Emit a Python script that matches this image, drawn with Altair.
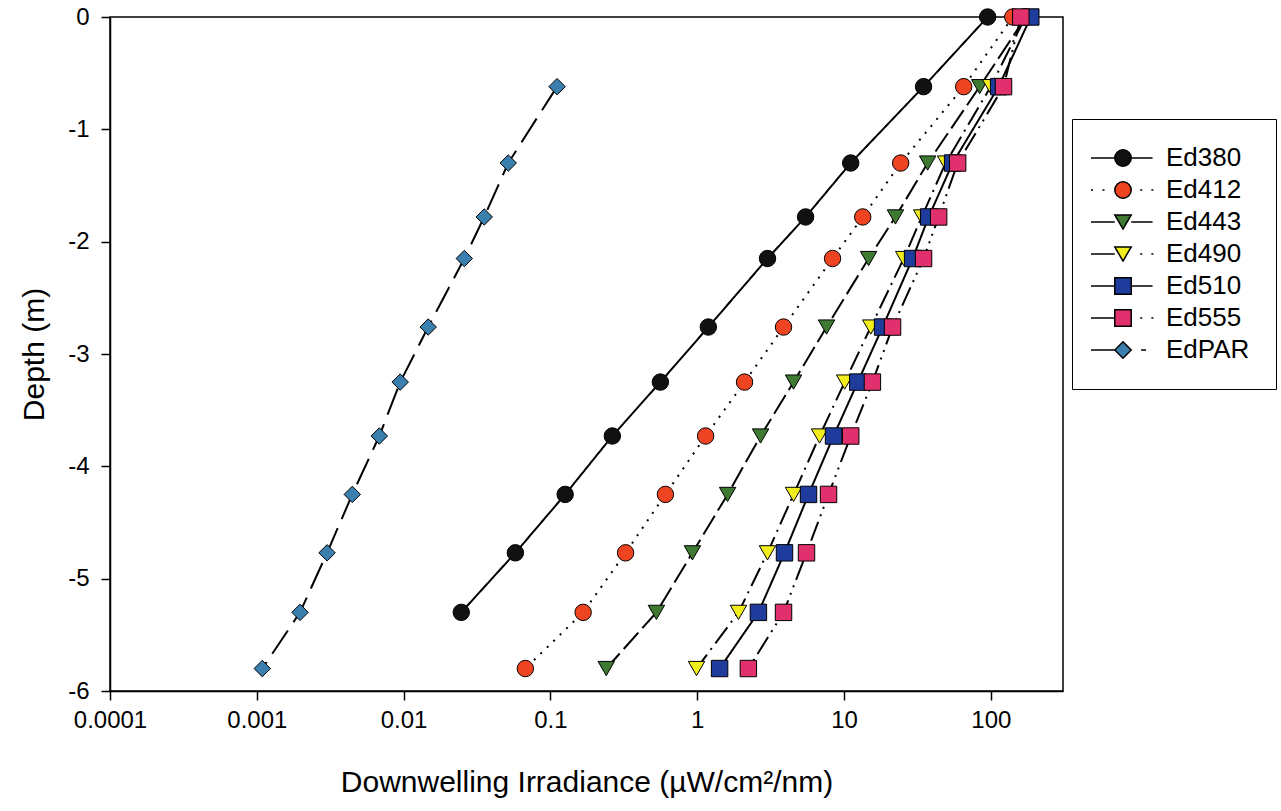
import altair as alt
import pandas as pd

# ---- data ----
series = ["Ed380", "Ed412", "Ed443", "Ed490", "Ed510", "Ed555", "EdPAR"]
depth = [0, -0.62, -1.30, -1.78, -2.15, -2.76, -3.25, -3.73, -4.25, -4.77, -5.30, -5.80]

ed380 = [95.1, 34.8, 11.1, 5.47, 3.01, 1.19, 0.561, 0.264, 0.126, 0.0577, 0.0247]
ed412 = [141, 65.3, 24.3, 13.4, 8.35, 3.87, 2.10, 1.14, 0.607, 0.325, 0.167, 0.0675]
ed443 = [173, 83.9, 37.1, 22.4, 14.7, 7.60, 4.53, 2.70, 1.61, 0.927, 0.527, 0.240]
ed490 = [172, 99.7, 49.2, 33.8, 25.5, 15.2, 10.1, 6.81, 4.53, 3.01, 1.91, 0.989]
ed510 = [187, 113, 54.9, 37.7, 29.3, 18.3, 12.4, 8.48, 5.73, 3.93, 2.61, 1.42]
ed555 = [160, 122, 59.4, 44.1, 34.8, 21.4, 15.6, 11.1, 7.84, 5.55, 3.87, 2.23]
edpar = [0.111, 0.0516, 0.0354, 0.0259, 0.0147, 0.00948, 0.00683, 0.00447,
         0.00301, 0.00197, 0.00109]

x_ticks = [0.0001, 0.001, 0.01, 0.1, 1, 10, 100]
y_ticks = [0, -1, -2, -3, -4, -5, -6]

values = {
    "Ed380": (depth[:11], ed380),
    "Ed412": (depth, ed412),
    "Ed443": (depth, ed443),
    "Ed490": (depth, ed490),
    "Ed510": (depth, ed510),
    "Ed555": (depth, ed555),
    "EdPAR": (depth[1:], edpar),
}

rows = []
for s in series:
    ds, vs = values[s]
    for i, (d, v) in enumerate(zip(ds, vs)):
        rows.append({"series": s, "depth": d, "irr": v, "idx": i})
df = pd.DataFrame(rows)
legend_df = pd.DataFrame({"series": series})

# ---- styles ----
fills = ["#111111", "#ee4422", "#3f7a32", "#f2ee1e", "#1f3c9c", "#e0306e", "#3a7fae"]
dashes = [[1, 0], [2, 7], [22, 6], [20, 6, 2, 6], [1, 0], [20, 6, 2, 6, 2, 6], [28, 10]]
shapes = ["circle", "circle", "triangle-down", "triangle-down", "square", "square", "diamond"]

circ = "M -1 0 A 1 1 0 1 1 1 0 A 1 1 0 1 1 -1 0 Z"
tri = "M 0 0.866 L 1 -0.866 L -1 -0.866 Z"
sq = "M -1 -1 H 1 V 1 H -1 Z"
dia = "M -1 0 L 0 -1 L 1 0 L 0 1 Z"
left_solid = "M -3.9 0 H -1 "
right_solid = "M 1 0 H 3.6 "
left_dots = "M -3.9 0 H -3.65 M -2.5 0 H -2.25 "
right_dots = "M 2.1 0 H 2.35 M 3.45 0 H 3.7 "
right_dash = "M 2.2 0 H 2.8 "
legend_paths = [
    left_solid + right_solid + circ,
    left_dots + right_dots + circ,
    left_solid + right_solid + tri,
    left_solid + right_dots + tri,
    left_solid + right_solid + sq,
    left_solid + right_dots + sq,
    left_solid + right_dash + dia,
]

FONT = "Liberation Sans"

x_enc = alt.X(
    "irr:Q",
    scale=alt.Scale(type="log", domain=[0.0001, 310], nice=False),
    axis=alt.Axis(values=x_ticks, labelExpr="'' + datum.value",
                  title="Downwelling Irradiance (µW/cm²/nm)",
                  labelPadding=8, titlePadding=35, labelFlush=False),
)
y_enc = alt.Y(
    "depth:Q",
    scale=alt.Scale(domain=[-6, 0], nice=False, zero=False),
    axis=alt.Axis(values=y_ticks, labelExpr="'' + datum.value",
                  title="Depth (m)", labelPadding=12, titlePadding=18, labelFlush=False),
)

line_layers = []
point_layers = []
for s, shp, col, dash in zip(series, shapes, fills, dashes):
    sub = alt.Chart(df).transform_filter(alt.datum.series == s)
    line_layers.append(
        sub.mark_line(color="black", strokeWidth=2, strokeDash=dash)
        .encode(x=x_enc, y=y_enc, order=alt.Order("idx:Q"))
    )
    point_layers.append(
        sub.mark_point(shape=shp, filled=True, fill=col, size=270, stroke="black",
                       strokeWidth=1, opacity=1)
        .encode(x=x_enc, y=y_enc)
    )

leg = alt.Legend(
    title=None, orient="none", legendX=962, legendY=102,
    strokeColor="black", fillColor="white", padding=26,
    labelFont=FONT, labelFontSize=26, labelColor="black",
    symbolOffset=12, labelOffset=30, rowPadding=6, symbolSize=270,
    symbolStrokeWidth=1.5,
)

legend_layer = alt.Chart(legend_df).transform_filter("false").mark_point(
    filled=True, size=270, strokeWidth=1.5, opacity=1
).encode(
    fill=alt.Fill("series:N", scale=alt.Scale(domain=series, range=fills), legend=leg),
    shape=alt.Shape("series:N", scale=alt.Scale(domain=series, range=legend_paths), legend=leg),
    stroke=alt.Stroke("series:N", scale=alt.Scale(domain=series, range=["black"] * 7), legend=leg),
)

chart = (
    alt.layer(*line_layers, *point_layers, legend_layer)
    .properties(
        width=953, height=674,
        autosize=alt.AutoSizeParams(type="none"),
        padding={"left": 110, "top": 17, "right": 218, "bottom": 120},
        background="white",
    )
    .configure_view(stroke="black", strokeWidth=1.5)
    .configure_axis(
        grid=False, domainColor="black", domainWidth=1.5,
        tickColor="black", tickWidth=1.5, tickSize=9,
        labelFont=FONT, labelFontSize=24, labelColor="black",
        titleFont=FONT, titleFontSize=30, titleFontWeight="normal", titleColor="black",
    )
)

chart.save("out.html", embed_options={"renderer": "svg", "actions": False})
